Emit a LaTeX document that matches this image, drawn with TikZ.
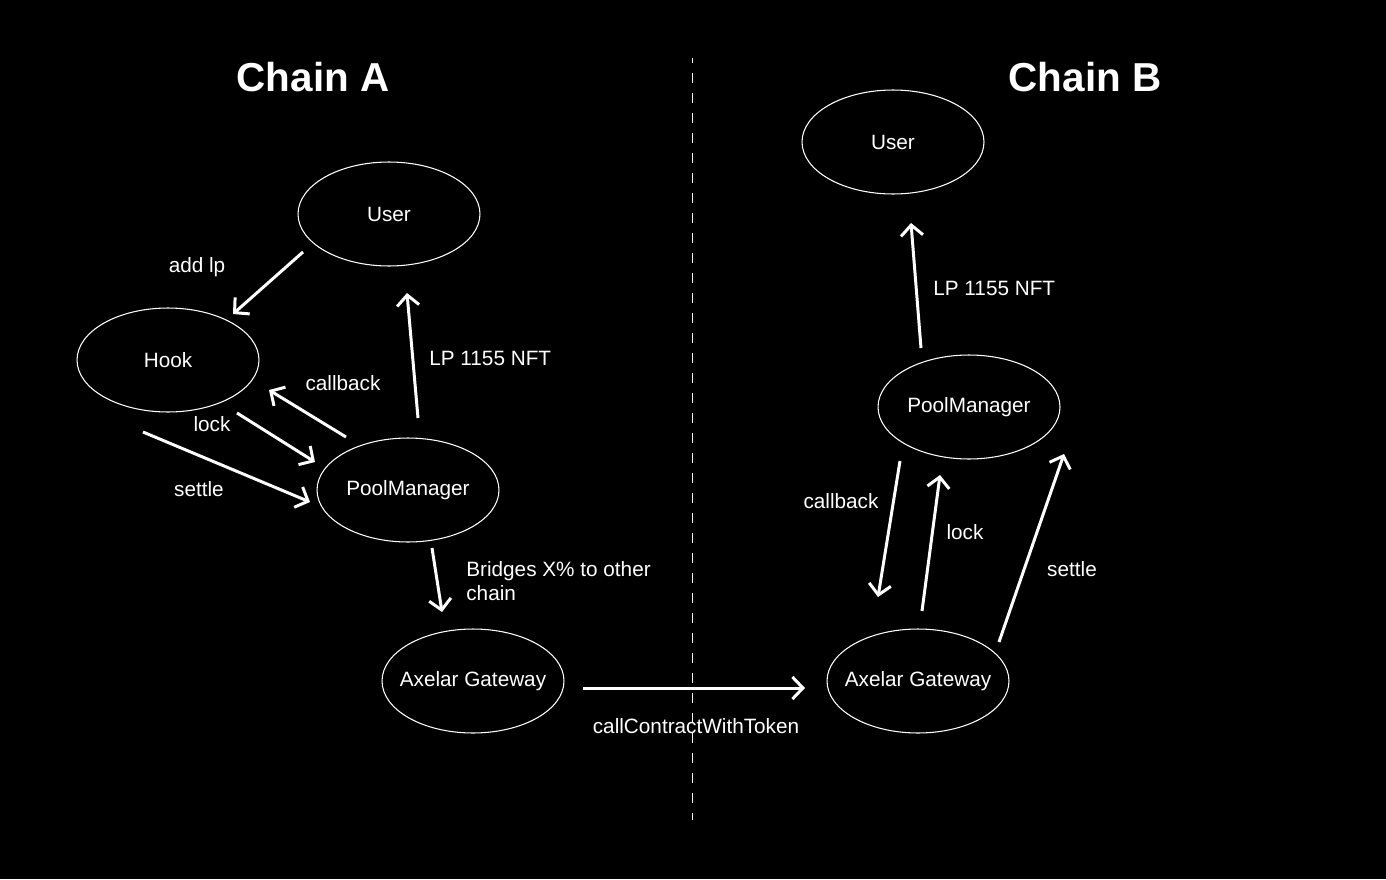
\documentclass[tikz,border=0pt]{standalone}
\usepackage{fontspec}
\setmainfont{Liberation Sans}
\usetikzlibrary{arrows.meta,shapes.geometric}

\begin{document}
\begin{tikzpicture}[x=0.02cm, y=-0.02cm,
    party/.style={draw=white, ellipse, line width=0.6pt, minimum width=3.64cm,
                  minimum height=2.08cm, inner sep=0pt, inner xsep=-6pt,
                  text=white, font=\fontsize{11.8}{14}\selectfont},
    flow/.style={-{Straight Barb[length=2.1mm,width=4.4mm]}, line width=1.7pt,
                 color=white},
    note/.style={text=white, inner sep=0pt, font=\fontsize{11.8}{13.6}\selectfont},
    head/.style={text=white, font=\fontsize{23}{28}\selectfont\bfseries}
]
\fill[black] (0,0) rectangle (1386,879);
\node[head] (ttlA) at (313,77) {Chain A};
\node[head] (ttlB) at (1085,77) {Chain B};
\coordinate (divtop) at (692,58);
\coordinate (divbot) at (692,820);
\draw[white, line width=0.5pt, dash pattern=on 0.2cm off 0.2cm, dash phase=0.1cm]
     (divtop) -- (divbot);

\node[party] (userA) at (389,214) {User};
\node[party] (hook)  at (168,360) {Hook};
\node[party] (pmA)   at (408,490) {PoolManager};
\node[party] (axA)   at (473,681) {Axelar Gateway};
\node[party] (userB) at (893,142) {User};
\node[party] (pmB)   at (969,407) {PoolManager};
\node[party] (axB)   at (918,681) {Axelar Gateway};

\draw[flow] ([shift={(-86,38)}]userA.center) -- ([shift={(65,-46)}]hook.center);
\draw[flow] ([shift={(-62,-53)}]pmA.center) -- ([shift={(101,30)}]hook.center);
\draw[flow] ([shift={(69,53)}]hook.center) -- ([shift={(-93,-28)}]pmA.center);
\draw[flow] ([shift={(-25,72)}]hook.center) -- ([shift={(-98,12)}]pmA.center);
\draw[flow] ([shift={(10,-72)}]pmA.center) -- ([shift={(18,79)}]userA.center);
\draw[flow] ([shift={(24,58)}]pmA.center) -- ([shift={(-31,-69)}]axA.center);
\draw[flow] ([shift={(110,7)}]axA.center) -- ([shift={(-113,7)}]axB.center);
\draw[flow] ([shift={(-48,-59)}]pmB.center) -- ([shift={(18,81)}]userB.center);
\draw[flow] ([shift={(-69,54)}]pmB.center) -- ([shift={(-40,-84)}]axB.center);
\draw[flow] ([shift={(4,-70)}]axB.center) -- ([shift={(-29,68)}]pmB.center);
\draw[flow] ([shift={(81,-39)}]axB.center) -- ([shift={(95,47)}]pmB.center);

\node[note] (lAddlp) at (197,267) {add lp};
\node[note] (lCbA)   at (343,383) {callback};
\node[note] (lLockA) at (212,424) {lock};
\node[note] (lSetA)  at (199,489) {settle};
\node[note, anchor=west] (lNftA) at (429,358) {LP 1155 NFT};
\node[note, anchor=north west, align=left] (lBridge) at (466,561)
     {Bridges X\% to other\\chain};
\node[note] (lCall)  at (696,726) {callContractWithToken};
\node[note, anchor=west] (lNftB) at (933,288) {LP 1155 NFT};
\node[note] (lCbB)   at (841,501) {callback};
\node[note] (lLockB) at (965,532) {lock};
\node[note] (lSetB)  at (1072,569) {settle};
\end{tikzpicture}
\end{document}
